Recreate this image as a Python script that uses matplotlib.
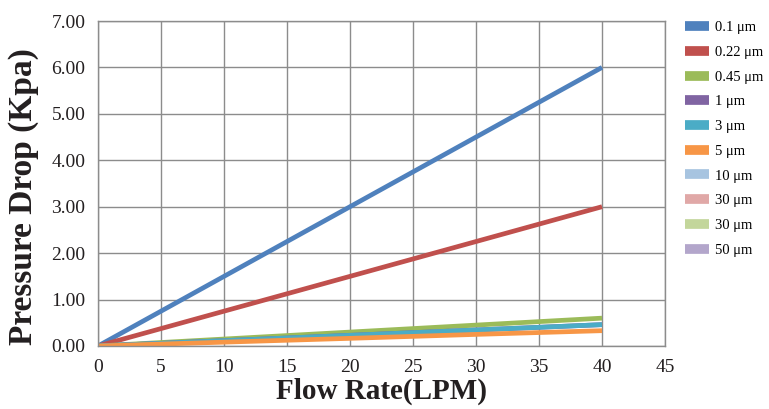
import matplotlib
matplotlib.use("Agg")
import matplotlib.pyplot as plt
from matplotlib.lines import Line2D

flow = [0, 10, 20, 30, 40]
labels = ["0.1 μm", "0.22 μm", "0.45 μm", "1 μm", "3 μm", "5 μm", "10 μm", "30 μm", "30 μm", "50 μm"]
colors = ["#4F81BD", "#C0504D", "#9BBB59", "#8064A2", "#4BACC6", "#F79646",
          "#A7C4E0", "#E0A8A7", "#C3D69B", "#B3A6CB"]
p_01 = [0, 1.5, 3.0, 4.5, 6.0]
p_022 = [0, 0.75, 1.5, 2.25, 3.0]
p_045 = [0, 0.15, 0.30, 0.45, 0.60]
p_1 = [0, 0.115, 0.23, 0.345, 0.46]
p_3 = [0, 0.115, 0.23, 0.345, 0.46]
p_5 = [0, 0.083, 0.165, 0.25, 0.33]
p_10 = []
p_30a = []
p_30b = []
p_50 = []
series = [p_01, p_022, p_045, p_1, p_3, p_5, p_10, p_30a, p_30b, p_50]

plt.rcParams['font.family'] = ['Liberation Serif', 'DejaVu Serif']

fig = plt.figure(figsize=(7.69, 4.09), dpi=100)
ax = fig.add_axes([98/769, 1 - 346/409, (665-98)/769, (346-21)/409])

handles = []
for y, c, lab in zip(series, colors, labels):
    xs = flow[:len(y)]
    ax.plot(xs, y, color=c, lw=3.4, solid_capstyle='butt')
    handles.append(Line2D([], [], color=c, lw=7, solid_capstyle='butt'))

ax.set_xlim(0, 45)
ax.set_ylim(0, 7)
ax.set_xticks(range(0, 46, 5))
ax.set_yticks([i for i in range(8)])
ax.set_yticklabels([f"{i:.2f}" for i in range(8)])
ax.grid(True, color="#8c8c8c", lw=1.0)
ax.set_axisbelow(True)
for s in ax.spines.values():
    s.set_color("#8c8c8c")
    s.set_linewidth(1.0)
ax.tick_params(length=0, labelsize=14, colors="#231f20", pad=9)

ax.set_xlabel("Flow Rate(LPM)", fontsize=21, fontweight='bold', color="#231f20", va='center')
ax.xaxis.set_label_coords(0.5, -0.14)
ax.set_ylabel("Pressure Drop (Kpa)", fontsize=24, fontweight='bold', color="#231f20", va='center')
ax.yaxis.set_label_coords(-0.132, 0.46)

fig.legend(handles, labels, loc='upper left', bbox_to_anchor=(685/769, 1 - 21/409),
           frameon=False, fontsize=10.5, handlelength=1.65, labelspacing=0.79,
           handletextpad=0.4, borderaxespad=0, borderpad=0)

fig.savefig("out.png", dpi=100)
